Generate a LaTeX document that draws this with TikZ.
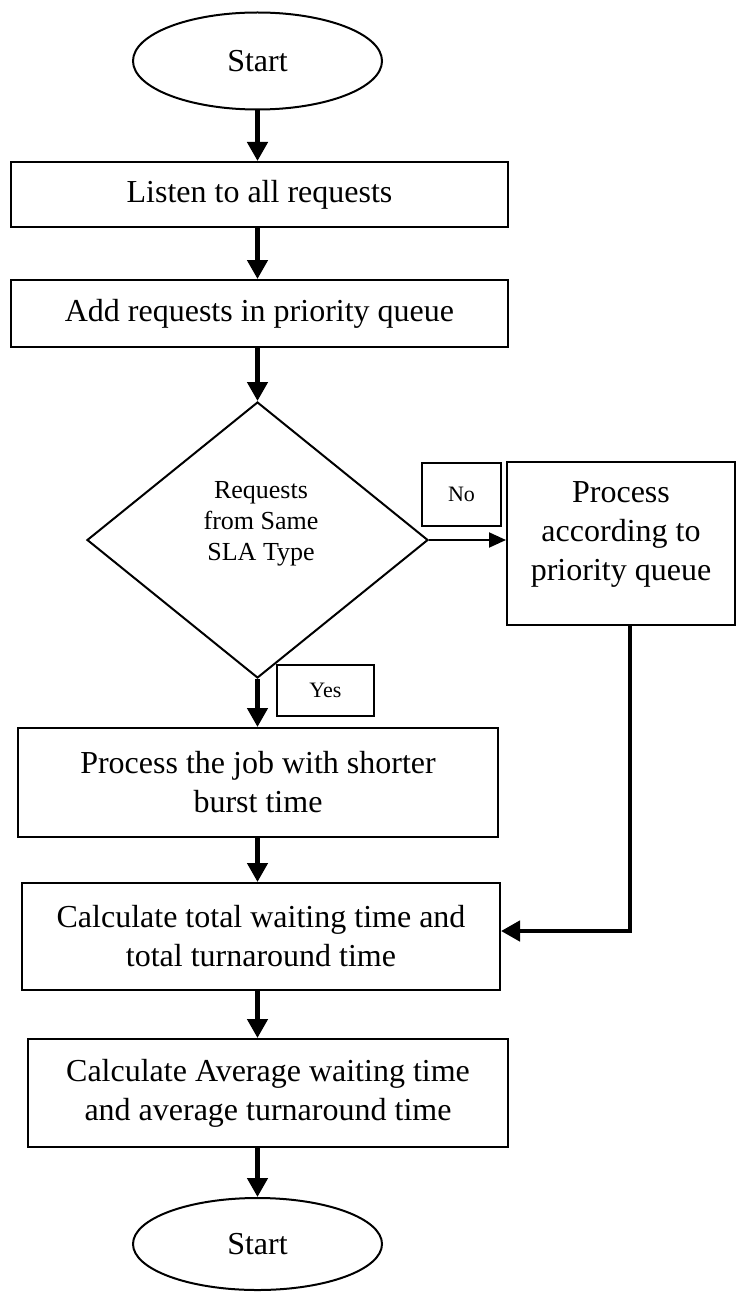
\documentclass[tikz,border=0pt]{standalone}
\usepackage{fontspec}
\setmainfont{Liberation Serif}
\usetikzlibrary{shapes.geometric,arrows.meta}
\begin{document}
\begin{tikzpicture}[x=1pt,y=-1pt,
  box/.style={draw,line width=2pt,rectangle,inner sep=0pt,align=center,font=\fontsize{32}{39}\selectfont},
  oval/.style={draw,line width=2pt,ellipse,inner sep=0pt,font=\fontsize{32}{39}\selectfont},
  tag/.style={draw,line width=2pt,rectangle,inner sep=0pt,font=\fontsize{22}{26}\selectfont},
  decide/.style={draw,line width=2pt,diamond,inner sep=0pt,align=center,font=\fontsize{26}{31}\selectfont},
  flow/.style={line width=4.5pt,-{Triangle[length=19pt,width=20pt]}},
  thinflow/.style={line width=2pt,-{Triangle[length=17pt,width=15pt]}}]
\useasboundingbox (0,0) rectangle (736,1292);
\node[oval,minimum width=249pt,minimum height=97pt] (start) at (257.5,61) {Start};
\node[box,minimum width=497pt,minimum height=65pt] (listen) at (259.5,194.5) {Listen to all requests};
\node[box,minimum width=497pt,minimum height=67pt] (add) at (259.5,313.5) {Add requests in priority queue};
\node[decide,minimum width=341pt,minimum height=276pt] (dec) at (257.5,540) {};
\node[align=center,font=\fontsize{26}{31}\selectfont] (dectext) at (261,524) {Requests\\from Same\\SLA Type};
\node[tag,minimum width=79pt,minimum height=63pt] (no) at (461.5,494.5) {No};
\node[box,minimum width=228pt,minimum height=163pt] (proc) at (621,543.5) {};
\node[align=center,font=\fontsize{32}{39}\selectfont] (proctext) at (621,534) {Process\\according to\\priority queue};
\node[tag,minimum width=97pt,minimum height=51pt] (yes) at (325.5,690.5) {Yes};
\node[box,minimum width=480pt,minimum height=109pt] (job) at (258,782.5) {Process the job with shorter\\burst time};
\node[box,minimum width=478pt,minimum height=107pt] (total) at (261,936.5) {Calculate total waiting time and\\total turnaround time};
\node[box,minimum width=480pt,minimum height=108pt] (avg) at (268,1093) {Calculate Average waiting time\\and average turnaround time};
\node[oval,minimum width=249pt,minimum height=92pt] (stop) at (257.5,1244) {Start};
\draw[flow] (start.south) -- (start.south |- listen.north);
\draw[flow] (start.south |- listen.south) -- (start.south |- add.north);
\draw[flow] (start.south |- add.south) -- (dec.north);
\draw[flow] (dec.south) -- (dec.south |- job.north);
\draw[flow] (dec.south |- job.south) -- (dec.south |- total.north);
\draw[flow] (dec.south |- total.south) -- (dec.south |- avg.north);
\draw[flow] (dec.south |- avg.south) -- (stop.north);
\draw[thinflow] (dec.east) -- (dec.east -| proc.west);
\draw[flow] ([xshift=9pt]proc.south) |- ([yshift=5.5pt]total.east);
\end{tikzpicture}
\end{document}
